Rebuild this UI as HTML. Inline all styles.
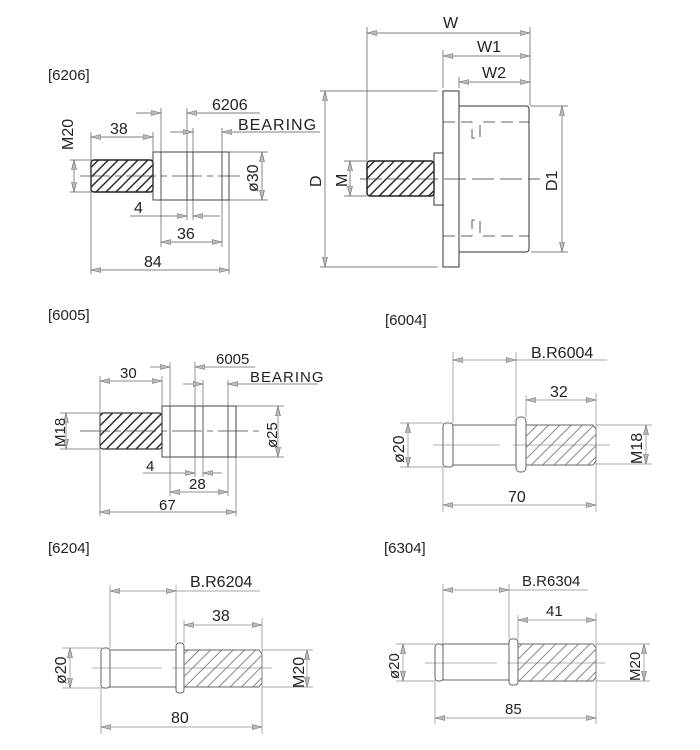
<!DOCTYPE html>
<html><head><meta charset="utf-8"><style>
html,body{margin:0;padding:0;background:#fff;}
svg{display:block}
text{font-family:"Liberation Sans",sans-serif;fill:#222}
.cad{font-family:"DejaVu Sans","Liberation Sans",sans-serif;font-weight:300;fill:#333}
</style></head><body>
<svg width="700" height="750" viewBox="0 0 700 750" xmlns="http://www.w3.org/2000/svg">
<defs>
<marker id="a" viewBox="0 0 10 6" refX="10" refY="3" markerWidth="10" markerHeight="6" markerUnits="userSpaceOnUse" orient="auto-start-reverse">
<path d="M0,0.5 L10,3 L0,5.5 Z" fill="#bbb" stroke="#666" stroke-width="0.6"/></marker>
<pattern id="h" width="7" height="7" patternUnits="userSpaceOnUse" patternTransform="rotate(45)">
<rect width="1.4" height="7" fill="#222"/></pattern>
<pattern id="h2" width="8" height="8" patternUnits="userSpaceOnUse" patternTransform="rotate(45)">
<rect width="1" height="8" fill="#888"/></pattern>
</defs>

<!-- ===== 6206 ===== -->
<text x="48" y="80" font-size="15">[6206]</text>
<g stroke="#444" stroke-width="1" fill="none">
<rect x="91" y="160" width="62" height="32" rx="3" fill="url(#h)" stroke="#222" stroke-width="1.5"/>
<rect x="153" y="152" width="8" height="48"/>
<rect x="161" y="152" width="61" height="48"/>
<line x1="187" y1="152" x2="187" y2="200"/><line x1="193" y1="152" x2="193" y2="200"/>
<rect x="222" y="152" width="7" height="48"/>
<line x1="80" y1="176" x2="240" y2="176" stroke-dasharray="30,5,6,5" stroke-width="0.7"/>
</g>
<g stroke="#555" stroke-width="0.7" fill="none">
<line x1="70" y1="160" x2="91" y2="160"/><line x1="70" y1="192" x2="91" y2="192"/>
<line x1="74" y1="160" x2="74" y2="192" marker-start="url(#a)" marker-end="url(#a)"/>
<line x1="91" y1="132" x2="91" y2="274"/><line x1="153" y1="132" x2="153" y2="152"/>
<line x1="91" y1="137" x2="153" y2="137" marker-start="url(#a)" marker-end="url(#a)"/>
<line x1="161" y1="108" x2="161" y2="247"/><line x1="187" y1="108" x2="187" y2="220"/><line x1="193" y1="128" x2="193" y2="220"/><line x1="222" y1="128" x2="222" y2="247"/><line x1="229" y1="200" x2="229" y2="274"/>
<line x1="136" y1="113" x2="161" y2="113" marker-end="url(#a)"/><line x1="187" y1="113" x2="260" y2="113" marker-start="url(#a)"/>
<line x1="170" y1="132" x2="193" y2="132" marker-end="url(#a)"/><line x1="222" y1="132" x2="320" y2="132" marker-start="url(#a)"/>
<line x1="229" y1="152" x2="268" y2="152"/><line x1="229" y1="200" x2="268" y2="200"/>
<line x1="262" y1="152" x2="262" y2="200" marker-start="url(#a)" marker-end="url(#a)"/>
<line x1="130" y1="216" x2="187" y2="216" marker-end="url(#a)"/><line x1="193" y1="216" x2="220" y2="216" marker-start="url(#a)"/>
<line x1="161" y1="242" x2="222" y2="242" marker-start="url(#a)" marker-end="url(#a)"/>
<line x1="91" y1="270" x2="229" y2="270" marker-start="url(#a)" marker-end="url(#a)"/>
</g>
<g class="cad" font-size="16">
<text x="110" y="134">38</text><text x="212" y="110">6206</text><text x="238" y="130" letter-spacing="1">BEARING</text>
<text x="134" y="213">4</text><text x="177" y="239">36</text><text x="144" y="267">84</text>
<text transform="translate(73,150) rotate(-90)">M20</text>
<text transform="translate(258,192) rotate(-90)">ø30</text>
</g>

<!-- ===== W/D diagram ===== -->
<g stroke="#333" stroke-width="1" fill="none">
<rect x="367" y="161" width="67" height="35" rx="3" fill="url(#h)" stroke="#222" stroke-width="1.5"/>
<rect x="434" y="153" width="9" height="52"/>
<rect x="443" y="91" width="16" height="176"/>
<path d="M459,106 H526 Q529,106 529,109 V249 Q529,252 526,252 H459"/>
<line x1="360" y1="179" x2="540" y2="179" stroke-dasharray="22,6" stroke-width="0.7"/>
<path d="M443,122 H472 V138 H480 V122 H529" stroke-dasharray="12,6" stroke-width="0.8"/>
<path d="M443,236 H472 V220 H480 V236 H529" stroke-dasharray="12,6" stroke-width="0.8"/>
</g>
<g stroke="#555" stroke-width="0.7" fill="none">
<line x1="367" y1="27" x2="367" y2="161"/><line x1="530" y1="27" x2="530" y2="106"/><line x1="443" y1="50" x2="443" y2="88"/><line x1="459" y1="77" x2="459" y2="88"/>
<line x1="367" y1="33" x2="530" y2="33" marker-start="url(#a)" marker-end="url(#a)"/>
<line x1="443" y1="56" x2="530" y2="56" marker-start="url(#a)" marker-end="url(#a)"/>
<line x1="459" y1="82" x2="530" y2="82" marker-start="url(#a)" marker-end="url(#a)"/>
<line x1="320" y1="91" x2="438" y2="91"/><line x1="320" y1="267" x2="438" y2="267"/>
<line x1="325" y1="91" x2="325" y2="267" marker-start="url(#a)" marker-end="url(#a)"/>
<line x1="344" y1="161" x2="367" y2="161"/><line x1="344" y1="196" x2="367" y2="196"/>
<line x1="350" y1="161" x2="350" y2="196" marker-start="url(#a)" marker-end="url(#a)"/>
<line x1="531" y1="106" x2="568" y2="106"/><line x1="531" y1="252" x2="568" y2="252"/>
<line x1="562" y1="106" x2="562" y2="252" marker-start="url(#a)" marker-end="url(#a)"/>
</g>
<g class="cad" font-size="16">
<text x="443" y="28">W</text><text x="477" y="52">W1</text><text x="482" y="78">W2</text>
<text transform="translate(321,187) rotate(-90)">D</text>
<text transform="translate(347,187) rotate(-90)">M</text>
<text transform="translate(557,191) rotate(-90)">D1</text>
</g>

<!-- ===== 6005 ===== -->
<text x="48" y="320" font-size="15">[6005]</text>
<g stroke="#444" stroke-width="1" fill="none">
<rect x="100" y="413" width="62" height="36" rx="3" fill="url(#h)" stroke="#333" stroke-width="1.2"/>
<rect x="162" y="406" width="8" height="51"/>
<rect x="170" y="406" width="58" height="51"/>
<line x1="195" y1="406" x2="195" y2="457"/><line x1="203" y1="406" x2="203" y2="457"/>
<rect x="228" y="406" width="8" height="51"/>
<line x1="80" y1="431" x2="262" y2="431" stroke-dasharray="30,5,6,5" stroke-width="0.7"/>
</g>
<g stroke="#666" stroke-width="0.7" fill="none">
<line x1="60" y1="413" x2="100" y2="413"/><line x1="60" y1="449" x2="100" y2="449"/>
<line x1="66" y1="413" x2="66" y2="449" marker-start="url(#a)" marker-end="url(#a)"/>
<line x1="100" y1="376" x2="100" y2="516"/><line x1="162" y1="376" x2="162" y2="406"/>
<line x1="100" y1="381" x2="162" y2="381" marker-start="url(#a)" marker-end="url(#a)"/>
<line x1="170" y1="362" x2="170" y2="496"/><line x1="195" y1="362" x2="195" y2="477"/><line x1="203" y1="380" x2="203" y2="477"/><line x1="228" y1="380" x2="228" y2="496"/><line x1="236" y1="457" x2="236" y2="516"/>
<line x1="150" y1="367" x2="170" y2="367" marker-end="url(#a)"/><line x1="195" y1="367" x2="255" y2="367" marker-start="url(#a)"/>
<line x1="183" y1="384" x2="203" y2="384" marker-end="url(#a)"/><line x1="228" y1="384" x2="318" y2="384" marker-start="url(#a)"/>
<line x1="236" y1="406" x2="284" y2="406"/><line x1="236" y1="457" x2="284" y2="457"/>
<line x1="278" y1="406" x2="278" y2="457" marker-start="url(#a)" marker-end="url(#a)"/>
<line x1="143" y1="473" x2="195" y2="473" marker-end="url(#a)"/><line x1="203" y1="473" x2="222" y2="473" marker-start="url(#a)"/>
<line x1="170" y1="492" x2="228" y2="492" marker-start="url(#a)" marker-end="url(#a)"/>
<line x1="100" y1="512" x2="236" y2="512" marker-start="url(#a)" marker-end="url(#a)"/>
</g>
<g class="cad" font-size="15">
<text x="120" y="378">30</text><text x="216" y="364">6005</text><text x="250" y="382" letter-spacing="1">BEARING</text>
<text x="146" y="471">4</text><text x="189" y="489">28</text><text x="159" y="510">67</text>
<text transform="translate(65,447) rotate(-90)">M18</text>
<text transform="translate(277,448) rotate(-90)">ø25</text>
</g>

<!-- ===== 6004 ===== -->
<text x="385" y="325" font-size="15">[6004]</text>
<g stroke="#666" stroke-width="1" fill="none">
<rect x="443" y="423" width="10" height="44" rx="3"/>
<rect x="453" y="425" width="63" height="40"/>
<rect x="516" y="417" width="10" height="55" rx="4"/>
<path d="M526,425 H593 L596,429 V461 L593,465 H526" fill="url(#h2)"/>
<line x1="433" y1="445" x2="500" y2="445" stroke-width="0.6"/><line x1="513" y1="445" x2="610" y2="445" stroke-width="0.6"/>
</g>
<g stroke="#888" stroke-width="0.7" fill="none">
<line x1="453" y1="352" x2="453" y2="423"/><line x1="516" y1="352" x2="516" y2="417"/>
<line x1="453" y1="360" x2="516" y2="360" marker-start="url(#a)" marker-end="url(#a)"/><line x1="516" y1="360" x2="607" y2="360"/>
<line x1="526" y1="395" x2="526" y2="417"/><line x1="596" y1="393" x2="596" y2="512"/><line x1="443" y1="467" x2="443" y2="512"/>
<line x1="526" y1="400" x2="596" y2="400" marker-start="url(#a)" marker-end="url(#a)"/>
<line x1="400" y1="423" x2="443" y2="423"/><line x1="400" y1="467" x2="443" y2="467"/>
<line x1="408" y1="423" x2="408" y2="467" marker-start="url(#a)" marker-end="url(#a)"/>
<line x1="596" y1="425" x2="652" y2="425"/><line x1="596" y1="464" x2="652" y2="464"/>
<line x1="646" y1="425" x2="646" y2="464" marker-start="url(#a)" marker-end="url(#a)"/>
<line x1="443" y1="505" x2="596" y2="505" marker-start="url(#a)" marker-end="url(#a)"/>
</g>
<g font-size="16">
<text x="531" y="358">B.R6004</text><text x="550" y="397">32</text><text x="508" y="502">70</text>
<text transform="translate(404,463) rotate(-90)">ø20</text>
<text transform="translate(642,464) rotate(-90)">M18</text>
</g>

<!-- ===== 6204 ===== -->
<text x="48" y="553" font-size="15">[6204]</text>
<g stroke="#666" stroke-width="1" fill="none">
<rect x="101" y="648" width="9" height="40" rx="3"/>
<rect x="110" y="650" width="66" height="37"/>
<rect x="176" y="643" width="8" height="50" rx="3"/>
<path d="M184,650 H259 L262,654 V683 L259,687 H184" fill="url(#h2)"/>
<line x1="92" y1="668" x2="162" y2="668" stroke-width="0.6"/><line x1="172" y1="668" x2="272" y2="668" stroke-width="0.6"/>
</g>
<g stroke="#888" stroke-width="0.7" fill="none">
<line x1="110" y1="585" x2="110" y2="648"/><line x1="176" y1="585" x2="176" y2="643"/>
<line x1="110" y1="591" x2="176" y2="591" marker-start="url(#a)" marker-end="url(#a)"/><line x1="176" y1="591" x2="260" y2="591"/>
<line x1="184" y1="620" x2="184" y2="643"/><line x1="262" y1="618" x2="262" y2="734"/><line x1="101" y1="688" x2="101" y2="734"/>
<line x1="184" y1="625" x2="262" y2="625" marker-start="url(#a)" marker-end="url(#a)"/>
<line x1="62" y1="648" x2="101" y2="648"/><line x1="62" y1="688" x2="101" y2="688"/>
<line x1="70" y1="648" x2="70" y2="688" marker-start="url(#a)" marker-end="url(#a)"/>
<line x1="262" y1="650" x2="313" y2="650"/><line x1="262" y1="687" x2="313" y2="687"/>
<line x1="307" y1="650" x2="307" y2="687" marker-start="url(#a)" marker-end="url(#a)"/>
<line x1="101" y1="727" x2="262" y2="727" marker-start="url(#a)" marker-end="url(#a)"/>
</g>
<g font-size="16">
<text x="190" y="587">B.R6204</text><text x="212" y="621">38</text><text x="171" y="723">80</text>
<text transform="translate(66,684) rotate(-90)">ø20</text>
<text transform="translate(304,688) rotate(-90)">M20</text>
</g>

<!-- ===== 6304 ===== -->
<text x="384" y="553" font-size="15">[6304]</text>
<g stroke="#666" stroke-width="1" fill="none">
<rect x="435" y="644" width="8" height="37" rx="3"/>
<rect x="443" y="644" width="66" height="36"/>
<rect x="509" y="639" width="9" height="46" rx="3"/>
<path d="M518,644 H593 L596,648 V677 L593,681 H518" fill="url(#h2)"/>
<line x1="425" y1="663" x2="497" y2="663" stroke-width="0.6"/><line x1="507" y1="663" x2="605" y2="663" stroke-width="0.6"/>
</g>
<g stroke="#888" stroke-width="0.7" fill="none">
<line x1="443" y1="584" x2="443" y2="644"/><line x1="509" y1="584" x2="509" y2="639"/>
<line x1="443" y1="590" x2="509" y2="590" marker-start="url(#a)" marker-end="url(#a)"/><line x1="509" y1="590" x2="588" y2="590"/>
<line x1="518" y1="615" x2="518" y2="639"/><line x1="596" y1="613" x2="596" y2="724"/><line x1="435" y1="681" x2="435" y2="724"/>
<line x1="518" y1="620" x2="596" y2="620" marker-start="url(#a)" marker-end="url(#a)"/>
<line x1="396" y1="644" x2="435" y2="644"/><line x1="396" y1="681" x2="435" y2="681"/>
<line x1="403" y1="644" x2="403" y2="681" marker-start="url(#a)" marker-end="url(#a)"/>
<line x1="596" y1="644" x2="650" y2="644"/><line x1="596" y1="681" x2="650" y2="681"/>
<line x1="644" y1="644" x2="644" y2="681" marker-start="url(#a)" marker-end="url(#a)"/>
<line x1="435" y1="718" x2="596" y2="718" marker-start="url(#a)" marker-end="url(#a)"/>
</g>
<g font-size="15">
<text x="522" y="586">B.R6304</text><text x="546" y="616">41</text><text x="505" y="714">85</text>
<text transform="translate(399,679) rotate(-90)">ø20</text>
<text transform="translate(640,681) rotate(-90)">M20</text>
</g>
</svg>
</body></html>
